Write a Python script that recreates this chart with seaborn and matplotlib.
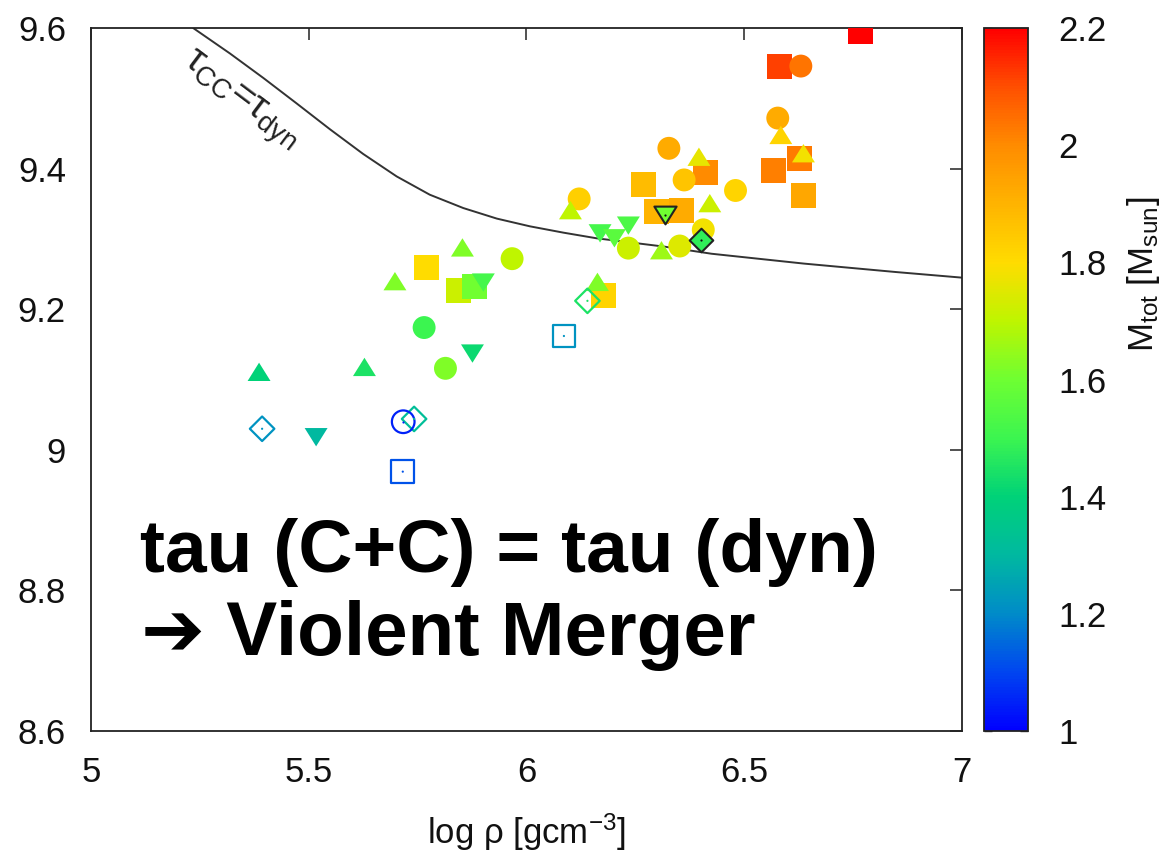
import numpy as np
import matplotlib
matplotlib.use("Agg")
import matplotlib.pyplot as plt
from matplotlib.colors import LinearSegmentedColormap, Normalize
from matplotlib.cm import ScalarMappable
from matplotlib.path import Path
from matplotlib.ticker import FuncFormatter
import seaborn as sns
import pandas as pd

# ---------------- data ----------------
sq_x = [6.766, 6.582, 6.411, 6.628, 6.568, 6.636, 6.268, 6.299, 6.355, 5.770, 5.845, 5.880, 6.176]
sq_y = [9.595, 9.546, 9.394, 9.415, 9.397, 9.362, 9.377, 9.339, 9.341, 9.260, 9.227, 9.232, 9.220]
sq_m = [2.20, 2.12, 2.00, 2.03, 2.02, 1.93, 1.88, 1.90, 1.92, 1.80, 1.72, 1.60, 1.82]

ci_x = [6.630, 6.577, 6.327, 6.362, 6.480, 6.121, 6.234, 6.352, 6.406, 5.967, 5.765, 5.814]
ci_y = [9.546, 9.472, 9.429, 9.384, 9.369, 9.357, 9.287, 9.290, 9.313, 9.272, 9.174, 9.116]
ci_m = [2.04, 1.92, 1.92, 1.86, 1.82, 1.83, 1.72, 1.75, 1.78, 1.70, 1.50, 1.62]

tu_x = [6.584, 6.396, 6.636, 6.101, 6.421, 6.310, 6.163, 5.698, 5.853, 5.628, 5.386]
tu_y = [9.448, 9.417, 9.422, 9.341, 9.351, 9.284, 9.239, 9.240, 9.288, 9.118, 9.111]
tu_m = [1.82, 1.76, 1.78, 1.70, 1.72, 1.66, 1.62, 1.62, 1.62, 1.45, 1.40]

td_x = [6.169, 6.202, 6.234, 5.901, 5.876, 5.517]
td_y = [9.308, 9.301, 9.319, 9.238, 9.137, 9.018]
td_m = [1.52, 1.56, 1.53, 1.52, 1.42, 1.30]

# filled with black edge
etd_x = [6.318]
etd_y = [9.334]
etd_m = [1.60]
edi_x = [6.401]
edi_y = [9.298]
edi_m = [1.48]

# open markers
odi_x = [5.393, 5.742, 6.140]
odi_y = [9.030, 9.044, 9.212]
odi_m = [1.22, 1.32, 1.45]
oci_x = [5.717]
oci_y = [9.040]
oci_m = [1.05]
osq_x = [5.716, 6.086]
osq_y = [8.969, 9.162]
osq_m = [1.12, 1.22]

# tau_CC = tau_dyn curve
curve_x = [5.235, 5.319, 5.396, 5.472, 5.549, 5.625, 5.702, 5.778, 5.855, 5.932, 6.008,
           6.085, 6.161, 6.318, 6.425, 6.637, 6.848, 7.000]
curve_y = [9.600, 9.564, 9.529, 9.493, 9.456, 9.421, 9.389, 9.363, 9.344, 9.329, 9.318,
           9.309, 9.301, 9.289, 9.279, 9.265, 9.253, 9.245]

x_ticks = [5, 5.5, 6, 6.5, 7]
y_ticks = [8.6, 8.8, 9.0, 9.2, 9.4, 9.6]
c_ticks = [1.0, 1.2, 1.4, 1.6, 1.8, 2.0, 2.2]

# colormap nodes
cm_vals = [1.0, 1.1, 1.2, 1.3, 1.4, 1.5, 1.6, 1.7, 1.8, 1.9, 2.0, 2.1, 2.2]
cm_rgb = [(0, 0, 255), (0, 70, 240), (0, 140, 200), (0, 185, 160), (0, 210, 120),
          (60, 245, 80), (110, 255, 50), (190, 245, 0), (255, 220, 0), (255, 180, 0),
          (255, 140, 0), (255, 80, 0), (255, 0, 0)]

# ---------------- style ----------------
sns.set_style("white")
plt.rcParams['font.family'] = ['Liberation Sans', 'DejaVu Sans']
plt.rcParams['mathtext.fontset'] = 'custom'
plt.rcParams['mathtext.rm'] = 'Liberation Sans'
plt.rcParams['mathtext.it'] = 'Liberation Sans:italic'
plt.rcParams['mathtext.bf'] = 'Liberation Sans:bold'
plt.rcParams['text.color'] = '#111111'
plt.rcParams['xtick.color'] = '#111111'
plt.rcParams['ytick.color'] = '#111111'
plt.rcParams['axes.labelcolor'] = '#111111'

vmin, vmax = 1.0, 2.2
norm = Normalize(vmin, vmax)
cmap = LinearSegmentedColormap.from_list(
    "gp", [((v - vmin) / (vmax - vmin), tuple(c / 255 for c in rgb)) for v, rgb in zip(cm_vals, cm_rgb)])

fig = plt.figure(figsize=(11.72, 8.52), dpi=100)
ax = fig.add_axes([0.0776, 0.142, 0.7432, 0.825])
cax = fig.add_axes([0.8396, 0.142, 0.0375, 0.825])

tri_up = Path([(-1, -0.8), (1, -0.8), (0, 0.8), (-1, -0.8)], closed=True)
tri_dn = Path([(-1, 0.8), (1, 0.8), (0, -0.8), (-1, 0.8)], closed=True)

# curve
sns.lineplot(x=curve_x, y=curve_y, ax=ax, color='#333333', lw=1.4, sort=False, zorder=2)

def filled(xs, ys, ms, marker, size, z=3):
    df = pd.DataFrame({'x': xs, 'y': ys, 'm': ms})
    sns.scatterplot(data=df, x='x', y='y', hue='m', palette=cmap, hue_norm=norm,
                    marker=marker, s=size ** 2, linewidth=0, legend=False, ax=ax, zorder=z)

filled(sq_x, sq_y, sq_m, 's', 18)
filled(ci_x, ci_y, ci_m, 'o', 16.5)
filled(tu_x, tu_y, tu_m, tri_up, 16.5)
filled(td_x, td_y, td_m, tri_dn, 16.5)

def edged(xs, ys, ms, marker, size):
    ax.scatter(xs, ys, marker=marker, s=size ** 2, c=cmap(norm(np.array(ms))),
               edgecolors='#222222', linewidths=1.5, zorder=4)
    ax.scatter(xs, ys, marker='o', s=2.5, c='#111111', linewidths=0, zorder=5)

edged(etd_x, etd_y, etd_m, tri_dn, 16)
edged(edi_x, edi_y, edi_m, 'D', 12)

def opened(xs, ys, ms, marker, size):
    cols = cmap(norm(np.array(ms)))
    ax.scatter(xs, ys, marker=marker, s=size ** 2, facecolors='none',
               edgecolors=cols, linewidths=1.6, zorder=4)
    ax.scatter(xs, ys, marker='o', s=2.5, c=cols, linewidths=0, zorder=5)

opened(odi_x, odi_y, odi_m, 'D', 12.5)
opened(oci_x, oci_y, oci_m, 'o', 16.3)
opened(osq_x, osq_y, osq_m, 's', 16.3)

# axes styling
ax.set_xlim(5, 7)
ax.set_ylim(8.6, 9.6)
ax.set_xticks(x_ticks)
ax.set_yticks(y_ticks)
fmt = FuncFormatter(lambda v, p: f"{v:g}")
ax.xaxis.set_major_formatter(fmt)
ax.yaxis.set_major_formatter(fmt)
ax.tick_params(direction='in', length=8.5, width=1.2, color='#333333', labelsize=25,
               top=True, right=True)
ax.tick_params(axis='x', pad=18)
ax.tick_params(axis='y', pad=18)
for s in ax.spines.values():
    s.set_color('#222222')
    s.set_linewidth(1.3)
ax.set_xlabel(r'log ρ [gcm$^{-3}$]', fontsize=25, labelpad=16)
ax.set_ylabel('')

ax.text(5.342, 9.496, r'τ$_{\rm CC}$=τ$_{\rm dyn}$', rotation=-37, ha='center', va='center',
        fontsize=28, color='#222222')

ax.text(5.1125, 8.826, 'tau (C+C) = tau (dyn)', fontsize=54, fontweight='bold',
        ha='left', va='baseline', color='black')
ax.text(5.115, 8.708, '➔ Violent Merger', fontsize=55, fontweight='bold',
        ha='left', va='baseline', color='black', family=['Liberation Sans', 'DejaVu Sans'])

# colorbar
sm = ScalarMappable(norm=norm, cmap=cmap)
cb = fig.colorbar(sm, cax=cax, ticks=c_ticks)
cb.ax.yaxis.set_major_formatter(fmt)
cb.ax.tick_params(direction='in', length=6, width=1.0, color='#333333', labelsize=25,
                  left=True, right=True, pad=22)
cb.outline.set_edgecolor('#222222')
cb.outline.set_linewidth(1.3)
cb.set_label(r'M$_{\rm tot}$ [M$_{\rm sun}$]', fontsize=25)
cb.ax.yaxis.set_label_coords(3.2, 0.65)

fig.savefig('out.png', dpi=100)
